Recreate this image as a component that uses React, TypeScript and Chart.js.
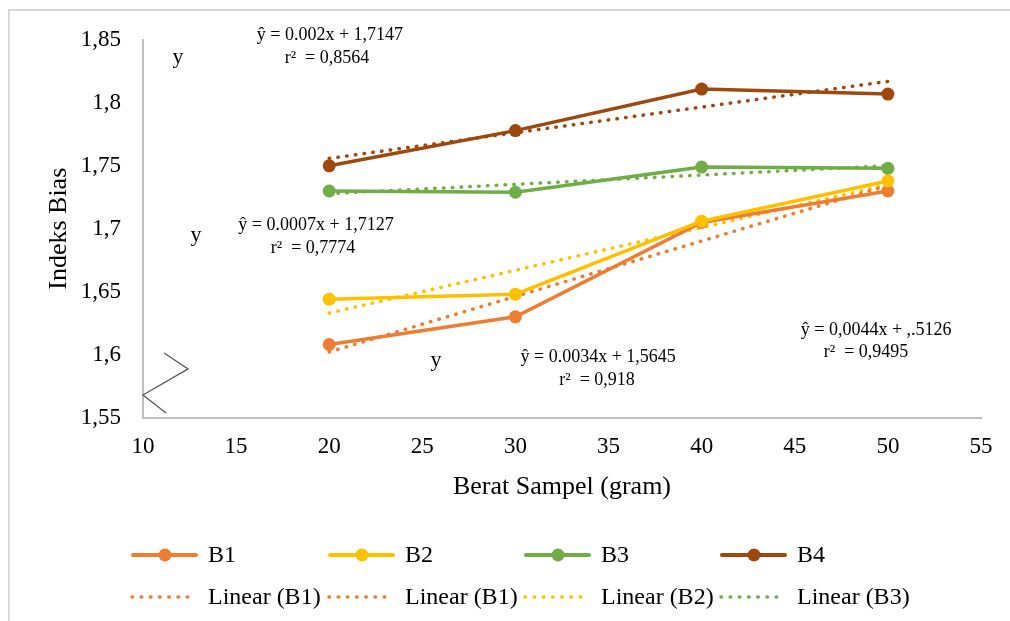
import React, { useEffect, useRef } from "react";
import { Chart, registerables } from "chart.js";

Chart.register(...registerables);

// Sample weights (gram) and measured refractive index per batch
const sampleWeights = [20, 30, 40, 50];
const seriesNames = ["B1", "B2", "B3", "B4"];
const b1Values = [1.608, 1.63, 1.705, 1.73];
const b2Values = [1.644, 1.648, 1.706, 1.738];
const b3Values = [1.73, 1.729, 1.749, 1.748];
const b4Values = [1.75, 1.778, 1.811, 1.807];
const seriesColors = ["#ED7D31", "#FFC000", "#70AD47", "#9E480E"];

// Axis ticks
const xTickValues = [10, 15, 20, 25, 30, 35, 40, 45, 50, 55];
const yTickValues = [1.55, 1.6, 1.65, 1.7, 1.75, 1.8, 1.85];
const yTickLabels = ["1,55", "1,6", "1,65", "1,7", "1,75", "1,8", "1,85"];

// Legend entries
const legendSeriesLabels = ["B1", "B2", "B3", "B4"];
const legendTrendLabels = ["Linear (B1)", "Linear (B1)", "Linear (B2)", "Linear (B3)"];
const legendTrendColors = ["#ED7D31", "#ED7D31", "#FFC000", "#70AD47"];

// Regression notes placed in data coordinates
const noteTexts = [
  "ŷ = 0.002x + 1,7147",
  "r²  = 0,8564",
  "ŷ = 0.0007x + 1,7127",
  "r²  = 0,7774",
  "ŷ = 0.0034x + 1,5645",
  "r²  = 0,918",
  "ŷ = 0,0044x + ,.5126",
  "r²  = 0,9495",
];
const noteX = [20.04, 19.88, 19.29, 19.13, 34.44, 34.38, 49.37, 48.83];
const noteY = [1.854, 1.8358, 1.703, 1.6847, 1.598, 1.5798, 1.6196, 1.602];

// Stray "y" glyphs and the small grey zig-zag stroke near the origin
const strayX = [11.88, 12.85, 25.74];
const strayY = [1.8366, 1.695, 1.5957];
const zigX = [11.13, 12.42, 10.0, 11.24];
const zigY = [1.6013, 1.5886, 1.5679, 1.5536];

const FONT = '"Liberation Serif", "Times New Roman", serif';
const CANVAS_W = 1000;
const CANVAS_H = 610;

function linearFit(xs: number[], ys: number[]) {
  const n = xs.length;
  const mx = xs.reduce((a, b) => a + b, 0) / n;
  const my = ys.reduce((a, b) => a + b, 0) / n;
  let sxy = 0;
  let sxx = 0;
  for (let i = 0; i < n; i++) {
    sxy += (xs[i] - mx) * (ys[i] - my);
    sxx += (xs[i] - mx) * (xs[i] - mx);
  }
  const slope = sxy / sxx;
  const intercept = my - slope * mx;
  return [
    { x: xs[0], y: intercept + slope * xs[0] },
    { x: xs[n - 1], y: intercept + slope * xs[n - 1] },
  ];
}

const overlayPlugin = {
  id: "overlay",
  afterDatasetsDraw(chart: any) {
    const { ctx, scales } = chart;
    const xs = scales.x;
    const ys = scales.y;
    ctx.save();
    // regression notes
    ctx.fillStyle = "#000";
    ctx.font = `18px ${FONT}`;
    ctx.textAlign = "center";
    ctx.textBaseline = "middle";
    noteTexts.forEach((t, i) => {
      ctx.fillText(t, xs.getPixelForValue(noteX[i]), ys.getPixelForValue(noteY[i]));
    });
    // stray y glyphs
    ctx.font = `22px ${FONT}`;
    strayX.forEach((v, i) => {
      ctx.fillText("y", xs.getPixelForValue(v), ys.getPixelForValue(strayY[i]));
    });
    // zig-zag stroke
    ctx.strokeStyle = "#595959";
    ctx.lineWidth = 1.3;
    ctx.beginPath();
    zigX.forEach((v, i) => {
      const px = xs.getPixelForValue(v);
      const py = ys.getPixelForValue(zigY[i]);
      if (i === 0) ctx.moveTo(px, py);
      else ctx.lineTo(px, py);
    });
    ctx.stroke();
    ctx.restore();
  },
  afterDraw(chart: any) {
    const { ctx } = chart;
    const colX = [121, 318, 514, 710];
    const rowY = [544, 586];
    const lineLen = 65;
    ctx.save();
    ctx.font = `24px ${FONT}`;
    ctx.textAlign = "left";
    ctx.textBaseline = "middle";
    legendSeriesLabels.forEach((label, i) => {
      const x0 = colX[i];
      const y0 = rowY[0];
      ctx.strokeStyle = seriesColors[i];
      ctx.lineWidth = 4;
      ctx.lineCap = "round";
      ctx.setLineDash([]);
      ctx.beginPath();
      ctx.moveTo(x0 + 2, y0);
      ctx.lineTo(x0 + lineLen, y0);
      ctx.stroke();
      ctx.fillStyle = seriesColors[i];
      ctx.beginPath();
      ctx.arc(x0 + 34, y0, 6.5, 0, Math.PI * 2);
      ctx.fill();
      ctx.fillStyle = "#000";
      ctx.fillText(label, x0 + 77, y0 + 1);
    });
    legendTrendLabels.forEach((label, i) => {
      const x0 = colX[i];
      const y0 = rowY[1];
      ctx.strokeStyle = legendTrendColors[i];
      ctx.lineWidth = 3.5;
      ctx.lineCap = "round";
      ctx.setLineDash([0.5, 8.7]);
      ctx.beginPath();
      ctx.moveTo(x0 + 1, y0);
      ctx.lineTo(x0 + lineLen, y0);
      ctx.stroke();
      ctx.setLineDash([]);
      ctx.fillStyle = "#000";
      ctx.fillText(label, x0 + 77, y0 + 1);
    });
    ctx.restore();
  },
};

export default function App() {
  const canvasRef = useRef<HTMLCanvasElement | null>(null);

  useEffect(() => {
    const prevMargin = document.body.style.margin;
    document.body.style.margin = "0";
    const canvas = canvasRef.current;
    if (!canvas) return;
    const allSeries = [b1Values, b2Values, b3Values, b4Values];

    const solidSets = allSeries.map((vals, i) => ({
      label: seriesNames[i],
      data: sampleWeights.map((w, k) => ({ x: w, y: vals[k] })),
      borderColor: seriesColors[i],
      backgroundColor: seriesColors[i],
      borderWidth: 3.5,
      pointRadius: 6.5,
      pointBorderWidth: 0,
      pointBackgroundColor: seriesColors[i],
      tension: 0,
      order: 4 - i,
    }));

    const trendSets = allSeries.map((vals, i) => ({
      label: `Linear (${seriesNames[i]})`,
      data: linearFit(sampleWeights, vals),
      borderColor: seriesColors[i],
      borderWidth: 3.5,
      borderDash: [0.5, 8.3],
      borderCapStyle: "round",
      pointRadius: 0,
      tension: 0,
      order: 10,
    }));

    const chart = new Chart(canvas, {
      type: "line",
      data: { datasets: [...solidSets, ...trendSets] as any },
      options: {
        animation: false,
        responsive: false,
        devicePixelRatio: 1,
        layout: { padding: { left: 0, top: 29, right: 29, bottom: 113.5 } },
        plugins: {
          legend: { display: false },
          tooltip: { enabled: false },
        },
        scales: {
          x: {
            type: "linear",
            min: 10,
            max: 55,
            afterBuildTicks: (s: any) => {
              s.ticks = xTickValues.map((v) => ({ value: v }));
            },
            afterFit: (s: any) => {
              s.height = 90;
              s.paddingLeft = 0;
              s.paddingRight = 0;
            },
            ticks: {
              color: "#000",
              font: { family: FONT, size: 23 },
              padding: 16,
              maxRotation: 0,
              callback: (v: any) => String(v),
            },
            grid: { display: false, drawTicks: false },
            border: { display: true, color: "#bfbfbf", width: 2 },
            title: {
              display: true,
              text: "Berat Sampel (gram)",
              color: "#000",
              font: { family: FONT, size: 26 },
              padding: { top: 0, bottom: 5 },
            },
          },
          y: {
            min: 1.55,
            max: 1.85,
            afterBuildTicks: (s: any) => {
              s.ticks = yTickValues.map((v) => ({ value: v }));
            },
            afterFit: (s: any) => {
              s.width = 133;
              s.paddingTop = 0;
              s.paddingBottom = 0;
            },
            ticks: {
              color: "#000",
              font: { family: FONT, size: 23 },
              padding: 22,
              callback: (v: any) => {
                const k = yTickValues.findIndex((t) => Math.abs(t - v) < 1e-9);
                return k >= 0 ? yTickLabels[k] : "";
              },
            },
            grid: { display: false, drawTicks: false },
            border: { display: true, color: "#bfbfbf", width: 2 },
            title: {
              display: true,
              text: "Indeks Bias",
              color: "#000",
              font: { family: FONT, size: 26 },
              padding: { top: 34, bottom: 0 },
            },
          },
        },
      },
      plugins: [overlayPlugin],
    });

    return () => {
      chart.destroy();
      document.body.style.margin = prevMargin;
    };
  }, []);

  return (
    <div
      style={{
        width: 1010,
        height: 621,
        boxSizing: "border-box",
        paddingLeft: 8,
        paddingTop: 9,
        overflow: "hidden",
        background: "#fff",
      }}
    >
      <div
        style={{
          borderTop: "2px solid #d9d9d9",
          borderLeft: "2px solid #d9d9d9",
          width: CANVAS_W,
          height: CANVAS_H,
        }}
      >
        <canvas
          ref={canvasRef}
          width={CANVAS_W}
          height={CANVAS_H}
          style={{ display: "block", width: CANVAS_W, height: CANVAS_H }}
        />
      </div>
    </div>
  );
}
